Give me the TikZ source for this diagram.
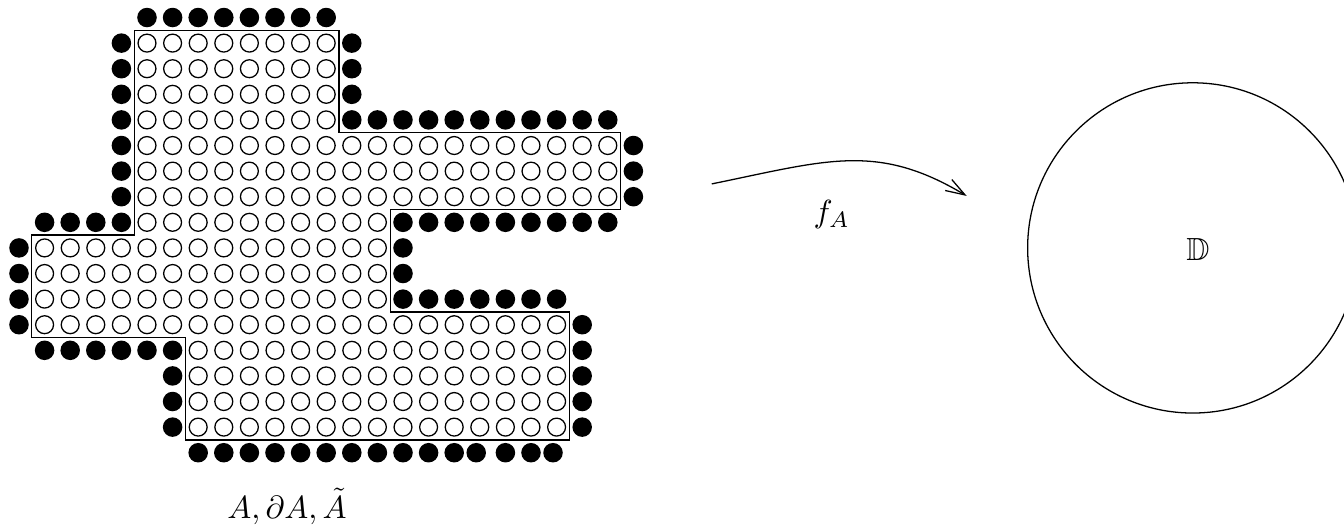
\documentclass[tikz,border=0pt]{standalone}
\usepackage{amssymb}
\usetikzlibrary{arrows.meta}
\begin{document}
\begin{tikzpicture}[x=8pt,y=-8pt,
    interior/.style={draw,line width=0.4pt},
    bdry/.style={fill=black}]
\useasboundingbox (-0.742,-0.684) rectangle (51.758,19.785);
% points of A
\foreach \r/\a/\b in {1/5/12,2/5/12,3/5/12,4/5/12,5/5/23,6/5/23,7/5/23,8/5/14,
    9/1/14,10/1/14,11/1/14,12/1/21,13/7/21,14/7/21,15/7/21,16/7/21}
  \foreach \c in {\a,...,\b}
    \draw[interior] (\c,\r) circle (2.8pt);
% points of the boundary
\foreach \r/\a/\b in {0/5/12,1/4/4,1/13/13,2/4/4,2/13/13,3/4/4,3/13/13,4/4/4,4/13/23,
    5/4/4,5/24/24,6/4/4,6/24/24,7/4/4,7/24/24,8/1/4,8/15/23,9/0/0,9/15/15,
    10/0/0,10/15/15,11/0/0,11/15/21,12/0/0,12/22/22,13/1/6,13/22/22,
    14/6/6,14/22/22,15/6/6,15/22/22,16/6/6,16/22/22,17/7/17}
  \foreach \c in {\a,...,\b}
    \fill[bdry] (\c,\r) circle (3.05pt);
\foreach \c in {17.86,19,20,20.86}
  \fill[bdry] (\c,17) circle (3.05pt);
% outline of A tilde
\draw[line width=0.4pt] (4.5,0.5) -- (12.5,0.5) -- (12.5,4.5) -- (23.5,4.5) -- (23.5,7.5)
  -- (14.5,7.5) -- (14.5,11.5) -- (21.5,11.5) -- (21.5,16.5) -- (6.5,16.5)
  -- (6.5,12.5) -- (0.5,12.5) -- (0.5,8.5) -- (4.5,8.5) -- cycle;
\node[anchor=base] (setlabel) at (10.47,19.55) {$A,\partial A,\tilde A$};
% the map
\coordinate (mapstart) at (27.06,6.50);
\coordinate (mapend) at (37.02,6.97);
\draw[-{Straight Barb[length=6pt,width=4pt]}] (mapstart) .. controls (31.56,5.58) and (33.52,4.87) .. (mapend);
\node (maplabel) at (31.75,7.71) {$f_A$};
% the disk
\draw (45.85,9) circle (51.6pt);
\node (disklabel) at (46.05,9.08) {$\mathbb{D}$};
\end{tikzpicture}
\end{document}
